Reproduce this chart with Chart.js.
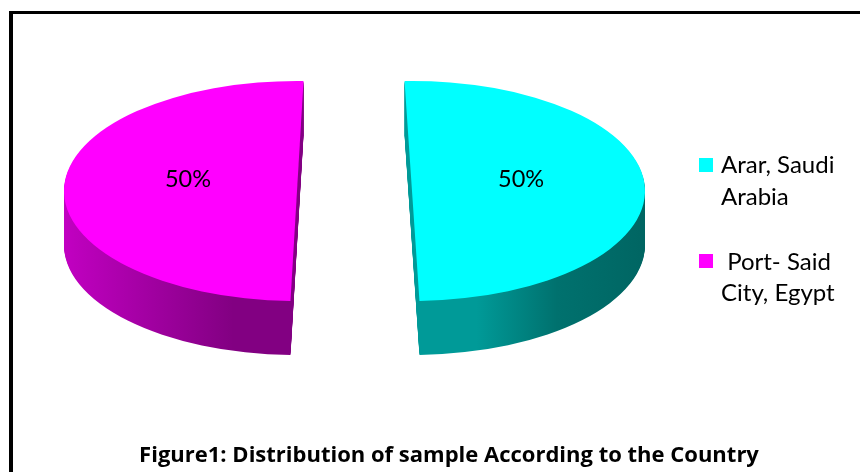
<!DOCTYPE html>
<html><head><meta charset="utf-8">
<script src="https://cdn.jsdelivr.net/npm/chart.js@4.4.1/dist/chart.umd.min.js"></script>
<style>
html,body{margin:0;padding:0;background:#fff;overflow:hidden;}
#wrap{position:relative;width:860px;height:472px;overflow:hidden;}
#frame{position:absolute;left:9px;top:11px;width:900px;height:520px;border-left:4px solid #000;border-top:3px solid #000;}
canvas{position:absolute;left:0;top:0;}
</style></head><body>
<div id="wrap"><div id="frame"></div><canvas id="c" width="860" height="472"></canvas></div>
<script>
// ---- data ----
const categories = [["Arar, Saudi", "Arabia"], [" Port- Said", "City, Egypt"]];
const values = [50, 50];
const topColors = ['#00FFFF', '#FF00FF'];
const titleText = 'Figure1: Distribution of sample According to the Country';

// ---- styles ----
const TILT = 0.472;        // vertical squash of the pie
const DEPTH = 54;          // thickness of the 3D side, px
const EXPLODE = 57.5;      // how far each slice is pulled out, px
const PERSPECTIVE = [-0.032, 0.028]; // small per-slice turn imitating perspective, rad
const sideStops = [
  [[0, '#009a98'], [0.35, '#00716e'], [1, '#005e5b']],
  [[0, '#820082'], [0.5, '#ad00ad'], [1, '#d600d6']]
];
const FONT = 'Lato, "Open Sans", sans-serif';

function place(ctx, el, i, d) {
  const half = (el.startAngle + el.endAngle) / 2;
  ctx.translate(0, el.y + d);
  ctx.scale(1, TILT);
  ctx.translate(0, -el.y);
  ctx.translate(Math.cos(half) * EXPLODE, Math.sin(half) * EXPLODE);
  ctx.translate(el.x, el.y);
  ctx.rotate(PERSPECTIVE[i]);
  ctx.translate(-el.x, -el.y);
}

const pie3d = {
  id: 'pie3d',
  beforeDatasetsDraw(chart) {
    const ctx = chart.ctx;
    const meta = chart.getDatasetMeta(0);
    // sides
    meta.data.forEach((el, i) => {
      const R = el.outerRadius;
      const half = (el.startAngle + el.endAngle) / 2;
      const cutX = el.x + Math.cos(half) * EXPLODE;
      const farX = cutX + Math.cos(half) * R;
      const g = ctx.createLinearGradient(cutX, 0, farX, 0);
      sideStops[i].forEach(s => g.addColorStop(s[0], s[1]));
      const orig = el.options;
      el.options = Object.assign({}, orig, {backgroundColor: g, borderWidth: 0});
      for (let d = DEPTH; d >= 1; d--) {
        ctx.save();
        place(ctx, el, i, d);
        el.draw(ctx);
        ctx.restore();
      }
      el.options = orig;
    });
    // tops
    meta.data.forEach((el, i) => {
      ctx.save();
      place(ctx, el, i, 0);
      el.draw(ctx);
      ctx.restore();
    });
    return false;
  },
  afterDraw(chart) {
    const ctx = chart.ctx;
    const meta = chart.getDatasetMeta(0);
    const total = values.reduce((a, b) => a + b, 0);
    ctx.save();
    ctx.fillStyle = '#000';
    // percentage labels
    ctx.font = '23.5px ' + FONT;
    ctx.textAlign = 'center';
    ctx.textBaseline = 'alphabetic';
    meta.data.forEach((el, i) => {
      const half = (el.startAngle + el.endAngle) / 2;
      const x = el.x + Math.cos(half) * (EXPLODE + 0.468 * el.outerRadius);
      ctx.fillText(Math.round(values[i] / total * 100) + '%', x, el.y - 4);
    });
    // legend
    const legend = [
      {sq: [699, 158], lines: [[721, 173], [721, 205]]},
      {sq: [699, 254], lines: [[721, 270], [721, 301]]}
    ];
    ctx.font = '24px ' + FONT;
    ctx.textAlign = 'left';
    categories.forEach((lab, i) => {
      const L = legend[i];
      ctx.fillStyle = topColors[i];
      ctx.fillRect(L.sq[0], L.sq[1], 14, 14);
      ctx.fillStyle = '#000';
      lab.forEach((t, j) => ctx.fillText(t, L.lines[j][0], L.lines[j][1]));
    });
    // title
    ctx.font = 'bold 22px "Open Sans", Lato, sans-serif';
    ctx.textAlign = 'center';
    ctx.fillText(titleText, 449, 462);
    ctx.restore();
  }
};

new Chart(document.getElementById('c'), {
  type: 'pie',
  data: {
    labels: categories,
    datasets: [{
      data: values,
      backgroundColor: topColors,
      borderWidth: 0,
      hoverOffset: 0
    }]
  },
  options: {
    responsive: false,
    animation: false,
    events: [],
    radius: 233,
    rotation: 0,
    layout: {padding: {left: 0, right: 151, top: 0, bottom: 90}},
    plugins: {legend: {display: false}, tooltip: {enabled: false}, title: {display: false}}
  },
  plugins: [pie3d]
});
</script>
</body></html>
